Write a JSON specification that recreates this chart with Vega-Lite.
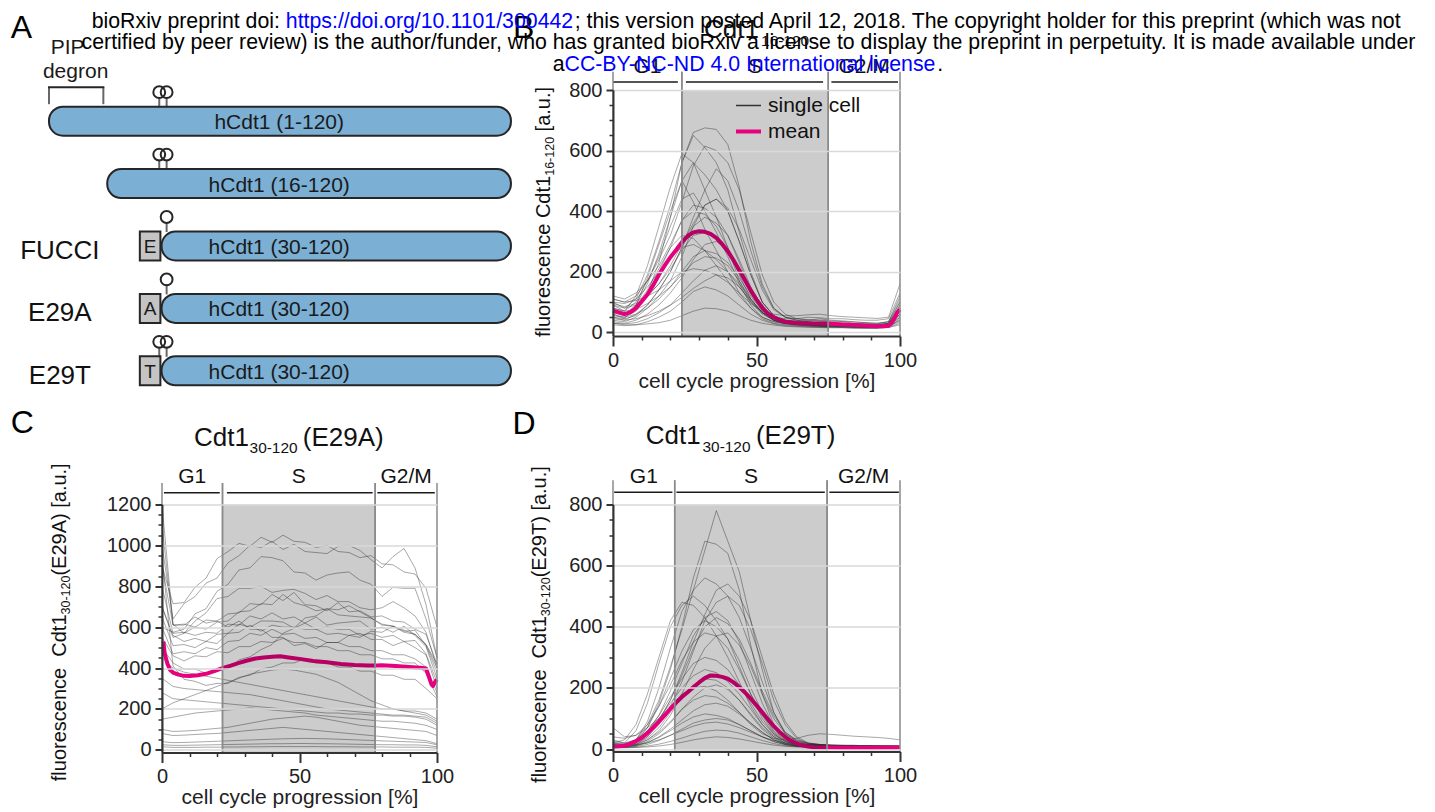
{
"$schema":"https://vega.github.io/schema/vega-lite/v6.json",
"background":"white",
"padding":{"left":10,"top":10,"right":0,"bottom":0},
"config":{"font":"Liberation Sans","view":{"stroke":null}},
"columns":2,
"bounds":"flush",
"align":"each",
"spacing":{"row":102.5,"column":176},
"datasets":{
"bars":[{"row":1,"start":1,"end":120,"label":"hCdt1 (1-120)"},{"row":2,"start":16,"end":120,"label":"hCdt1 (16-120)"},{"row":3,"start":30,"end":120,"label":"hCdt1 (30-120)"},{"row":4,"start":30,"end":120,"label":"hCdt1 (30-120)"},{"row":5,"start":30,"end":120,"label":"hCdt1 (30-120)"}],
"residues":[{"row":3,"start":24.4,"end":29.7,"res":"E"},{"row":4,"start":24.4,"end":29.7,"res":"A"},{"row":5,"start":24.4,"end":29.7,"res":"T"}],
"sites":[{"row":1,"pos":29.4},{"row":1,"pos":31.3},{"row":2,"pos":29.4},{"row":2,"pos":31.3},{"row":3,"pos":31.3},{"row":4,"pos":31.3},{"row":5,"pos":29.4},{"row":5,"pos":31.3}],
"constructs":[{"row":3,"name":"FUCCI"},{"row":4,"name":"E29A"},{"row":5,"name":"E29T"}],
"degron":[{"from":1,"to":15}],
"phasesB":[{"phase":"G1","start":0,"end":24,"from":0.2,"to":22.6,"mid":12},{"phase":"S","start":24,"end":75,"from":25.4,"to":73.2,"mid":49.5},{"phase":"G2/M","start":75,"end":100,"from":76.1,"to":99.3,"mid":87.5}],
"phasesC":[{"phase":"G1","start":0,"end":22,"from":0.7,"to":21,"mid":11},{"phase":"S","start":22,"end":77.5,"from":23.6,"to":76.6,"mid":49.75},{"phase":"G2/M","start":77.5,"end":100,"from":78.3,"to":99.2,"mid":88.75}],
"phasesD":[{"phase":"G1","start":0,"end":21.5,"from":0.4,"to":20.7,"mid":10.75},{"phase":"S","start":21.5,"end":74.6,"from":22.1,"to":73.8,"mid":48.05},{"phase":"G2/M","start":74.6,"end":100,"from":75.4,"to":99.6,"mid":87.3}],
"meanB":[{"x":0,"value":72},{"x":2,"value":66},{"x":4,"value":60},{"x":6,"value":66},{"x":8,"value":80},{"x":10,"value":102},{"x":12,"value":125},{"x":14,"value":155},{"x":16,"value":190},{"x":18,"value":220},{"x":20,"value":248},{"x":22,"value":272},{"x":24,"value":298},{"x":26,"value":318},{"x":28,"value":330},{"x":30,"value":334},{"x":32,"value":332},{"x":34,"value":325},{"x":36,"value":312},{"x":38,"value":292},{"x":40,"value":268},{"x":42,"value":238},{"x":44,"value":205},{"x":46,"value":172},{"x":48,"value":138},{"x":50,"value":108},{"x":52,"value":82},{"x":54,"value":62},{"x":56,"value":50},{"x":58,"value":41},{"x":60,"value":35},{"x":64,"value":31},{"x":68,"value":29},{"x":72,"value":29},{"x":75,"value":29},{"x":80,"value":26},{"x":85,"value":24},{"x":90,"value":21},{"x":94,"value":20},{"x":96,"value":22},{"x":97,"value":30},{"x":98,"value":45},{"x":99,"value":65},{"x":100,"value":75}],
"meanC":[{"x":0.5,"value":530},{"x":1,"value":470},{"x":2,"value":420},{"x":3,"value":390},{"x":4,"value":378},{"x":6,"value":368},{"x":8,"value":362},{"x":10,"value":361},{"x":13,"value":365},{"x":16,"value":372},{"x":19,"value":385},{"x":22,"value":400},{"x":25,"value":412},{"x":28,"value":425},{"x":31,"value":437},{"x":34,"value":447},{"x":37,"value":452},{"x":40,"value":455},{"x":43,"value":458},{"x":46,"value":452},{"x":50,"value":445},{"x":55,"value":435},{"x":60,"value":428},{"x":65,"value":420},{"x":70,"value":415},{"x":75,"value":412},{"x":78,"value":412},{"x":80,"value":414},{"x":85,"value":410},{"x":90,"value":405},{"x":94,"value":402},{"x":96,"value":398},{"x":97,"value":360},{"x":98,"value":320},{"x":98.5,"value":312},{"x":99,"value":325},{"x":99.5,"value":337},{"x":100,"value":330}],
"meanD":[{"x":0,"value":8},{"x":2,"value":9},{"x":4,"value":11},{"x":6,"value":17},{"x":8,"value":26},{"x":10,"value":37},{"x":12,"value":52},{"x":14,"value":70},{"x":16,"value":90},{"x":18,"value":110},{"x":20,"value":132},{"x":22,"value":152},{"x":24,"value":170},{"x":26,"value":186},{"x":28,"value":202},{"x":30,"value":218},{"x":32,"value":232},{"x":34,"value":241},{"x":36,"value":240},{"x":38,"value":236},{"x":40,"value":230},{"x":42,"value":218},{"x":44,"value":203},{"x":46,"value":185},{"x":48,"value":165},{"x":50,"value":143},{"x":52,"value":120},{"x":54,"value":97},{"x":56,"value":75},{"x":58,"value":56},{"x":60,"value":40},{"x":62,"value":27},{"x":64,"value":18},{"x":66,"value":12},{"x":68,"value":8},{"x":70,"value":6},{"x":74,"value":5},{"x":80,"value":4},{"x":90,"value":4},{"x":100,"value":5}],
"tracesB":[
{"x":0,"c1":100,"c2":60,"c3":110,"c4":80,"c5":50,"c6":90,"c7":40,"c8":70,"c9":120,"c10":60,"c11":50,"c12":90,"c13":35,"c14":100,"c15":55,"c16":80,"c17":30,"c18":110,"c19":45,"c20":25,"c21":30,"c22":70,"c23":95,"c24":65},
{"x":4,"c1":80,"c2":50,"c3":100,"c4":70,"c5":40,"c6":70,"c7":35,"c8":60,"c9":110,"c10":45,"c11":45,"c12":80,"c13":30,"c14":95,"c15":50,"c16":70,"c17":28,"c18":100,"c19":40,"c20":22,"c21":25,"c22":60,"c23":85,"c24":55},
{"x":8,"c1":110,"c2":70,"c3":120,"c4":120,"c5":60,"c6":100,"c7":50,"c8":80,"c9":130,"c10":55,"c11":90,"c12":90,"c13":40,"c14":110,"c15":60,"c16":75,"c17":32,"c18":105,"c19":45,"c20":25,"c21":25,"c22":90,"c23":95,"c24":85},
{"x":12,"c1":190,"c2":130,"c3":170,"c4":220,"c5":90,"c6":170,"c7":80,"c8":130,"c9":170,"c10":90,"c11":180,"c12":120,"c13":60,"c14":150,"c15":80,"c16":95,"c17":45,"c18":120,"c19":55,"c20":35,"c21":28,"c22":160,"c23":120,"c24":140},
{"x":16,"c1":300,"c2":230,"c3":240,"c4":350,"c5":140,"c6":250,"c7":120,"c8":200,"c9":220,"c10":140,"c11":290,"c12":160,"c13":90,"c14":200,"c15":110,"c16":120,"c17":65,"c18":140,"c19":70,"c20":50,"c21":32,"c22":260,"c23":160,"c24":210},
{"x":20,"c1":420,"c2":380,"c3":320,"c4":480,"c5":200,"c6":350,"c7":170,"c8":280,"c9":290,"c10":200,"c11":400,"c12":210,"c13":130,"c14":250,"c15":150,"c16":150,"c17":90,"c18":170,"c19":90,"c20":70,"c21":40,"c22":380,"c23":220,"c24":280},
{"x":24,"c1":560,"c2":560,"c3":430,"c4":590,"c5":280,"c6":440,"c7":250,"c8":370,"c9":370,"c10":280,"c11":500,"c12":270,"c13":180,"c14":280,"c15":200,"c16":190,"c17":130,"c18":200,"c19":115,"c20":100,"c21":55,"c22":500,"c23":290,"c24":320},
{"x":28,"c1":660,"c2":650,"c3":550,"c4":560,"c5":380,"c6":460,"c7":350,"c8":420,"c9":400,"c10":350,"c11":430,"c12":320,"c13":240,"c14":290,"c15":250,"c16":230,"c17":170,"c18":210,"c19":145,"c20":135,"c21":70,"c22":560,"c23":360,"c24":310},
{"x":32,"c1":675,"c2":610,"c3":615,"c4":470,"c5":470,"c6":400,"c7":420,"c8":410,"c9":390,"c10":380,"c11":340,"c12":330,"c13":290,"c14":270,"c15":270,"c16":250,"c17":205,"c18":205,"c19":170,"c20":150,"c21":80,"c22":520,"c23":420,"c24":270},
{"x":36,"c1":670,"c2":560,"c3":600,"c4":380,"c5":540,"c6":330,"c7":440,"c8":380,"c9":350,"c10":360,"c11":270,"c12":310,"c13":300,"c14":240,"c15":260,"c16":245,"c17":220,"c18":190,"c19":190,"c20":140,"c21":78,"c22":470,"c23":440,"c24":220},
{"x":40,"c1":620,"c2":470,"c3":560,"c4":280,"c5":500,"c6":250,"c7":400,"c8":320,"c9":280,"c10":320,"c11":200,"c12":270,"c13":270,"c14":200,"c15":230,"c16":220,"c17":200,"c18":165,"c19":180,"c20":120,"c21":70,"c22":400,"c23":410,"c24":170},
{"x":44,"c1":480,"c2":330,"c3":470,"c4":170,"c5":400,"c6":160,"c7":300,"c8":230,"c9":190,"c10":240,"c11":130,"c12":200,"c13":210,"c14":150,"c15":180,"c16":170,"c17":160,"c18":130,"c19":150,"c20":90,"c21":55,"c22":300,"c23":340,"c24":120},
{"x":48,"c1":300,"c2":200,"c3":330,"c4":100,"c5":270,"c6":90,"c7":190,"c8":140,"c9":110,"c10":150,"c11":80,"c12":130,"c13":140,"c14":100,"c15":120,"c16":110,"c17":110,"c18":95,"c19":105,"c20":60,"c21":40,"c22":190,"c23":240,"c24":80},
{"x":52,"c1":160,"c2":100,"c3":190,"c4":60,"c5":150,"c6":50,"c7":100,"c8":80,"c9":65,"c10":85,"c11":45,"c12":75,"c13":80,"c14":65,"c15":70,"c16":65,"c17":65,"c18":70,"c19":65,"c20":40,"c21":30,"c22":100,"c23":140,"c24":50},
{"x":56,"c1":80,"c2":55,"c3":100,"c4":40,"c5":80,"c6":35,"c7":55,"c8":50,"c9":45,"c10":45,"c11":30,"c12":45,"c13":45,"c14":50,"c15":40,"c16":40,"c17":40,"c18":60,"c19":40,"c20":28,"c21":24,"c22":55,"c23":75,"c24":35},
{"x":60,"c1":50,"c2":40,"c3":60,"c4":30,"c5":50,"c6":30,"c7":35,"c8":40,"c9":38,"c10":30,"c11":25,"c12":35,"c13":30,"c14":45,"c15":30,"c16":32,"c17":28,"c18":55,"c19":30,"c20":22,"c21":20,"c22":40,"c23":50,"c24":28},
{"x":64,"c1":40,"c2":35,"c3":45,"c4":28,"c5":40,"c6":28,"c7":28,"c8":38,"c9":35,"c10":25,"c11":22,"c12":32,"c13":26,"c14":45,"c15":28,"c16":30,"c17":24,"c18":55,"c19":28,"c20":20,"c21":18,"c22":35,"c23":45,"c24":25},
{"x":68,"c1":35,"c2":30,"c3":40,"c4":25,"c5":35,"c6":26,"c7":25,"c8":35,"c9":40,"c10":22,"c11":20,"c12":30,"c13":24,"c14":50,"c15":26,"c16":30,"c17":22,"c18":58,"c19":26,"c20":18,"c21":17,"c22":32,"c23":42,"c24":24},
{"x":72,"c1":30,"c2":30,"c3":38,"c4":22,"c5":30,"c6":24,"c7":22,"c8":32,"c9":45,"c10":20,"c11":18,"c12":28,"c13":22,"c14":48,"c15":25,"c16":35,"c17":20,"c18":60,"c19":25,"c20":18,"c21":16,"c22":30,"c23":40,"c24":22},
{"x":76,"c1":30,"c2":25,"c3":35,"c4":20,"c5":30,"c6":22,"c7":20,"c8":30,"c9":40,"c10":20,"c11":17,"c12":26,"c13":20,"c14":45,"c15":24,"c16":32,"c17":20,"c18":55,"c19":24,"c20":16,"c21":15,"c22":30,"c23":38,"c24":22},
{"x":80,"c1":28,"c2":25,"c3":35,"c4":20,"c5":28,"c6":20,"c7":20,"c8":30,"c9":38,"c10":18,"c11":16,"c12":25,"c13":20,"c14":45,"c15":24,"c16":30,"c17":18,"c18":52,"c19":22,"c20":16,"c21":15,"c22":28,"c23":36,"c24":20},
{"x":84,"c1":25,"c2":22,"c3":30,"c4":18,"c5":25,"c6":20,"c7":18,"c8":28,"c9":35,"c10":16,"c11":15,"c12":24,"c13":18,"c14":42,"c15":22,"c16":28,"c17":18,"c18":50,"c19":22,"c20":15,"c21":14,"c22":26,"c23":34,"c24":20},
{"x":88,"c1":25,"c2":20,"c3":30,"c4":18,"c5":25,"c6":18,"c7":16,"c8":26,"c9":32,"c10":15,"c11":15,"c12":22,"c13":18,"c14":40,"c15":22,"c16":28,"c17":17,"c18":48,"c19":20,"c20":14,"c21":14,"c22":25,"c23":32,"c24":18},
{"x":92,"c1":22,"c2":20,"c3":28,"c4":18,"c5":22,"c6":18,"c7":15,"c8":25,"c9":30,"c10":15,"c11":15,"c12":22,"c13":18,"c14":40,"c15":20,"c16":26,"c17":16,"c18":46,"c19":20,"c20":14,"c21":14,"c22":25,"c23":30,"c24":18},
{"x":96,"c1":30,"c2":25,"c3":35,"c4":25,"c5":28,"c6":22,"c7":20,"c8":30,"c9":35,"c10":18,"c11":20,"c12":26,"c13":20,"c14":45,"c15":24,"c16":30,"c17":18,"c18":50,"c19":22,"c20":16,"c21":16,"c22":30,"c23":35,"c24":22},
{"x":100,"c1":80,"c2":60,"c3":110,"c4":70,"c5":90,"c6":60,"c7":50,"c8":100,"c9":120,"c10":45,"c11":40,"c12":70,"c13":40,"c14":130,"c15":60,"c16":90,"c17":35,"c18":160,"c19":50,"c20":30,"c21":25,"c22":80,"c23":100,"c24":55}
],
"tracesC":[
{"x":0,"c1":900,"c2":1000,"c3":600,"c4":1100,"c5":1200,"c6":800,"c7":700,"c8":650,"c9":900,"c10":600,"c11":550,"c12":500,"c13":450,"c14":350,"c15":280,"c16":200,"c17":150,"c18":100,"c19":80,"c20":40,"c21":25,"c22":15,"c23":950,"c24":700},
{"x":4,"c1":715,"c2":640,"c3":575,"c4":610,"c5":615,"c6":570,"c7":560,"c8":510,"c9":610,"c10":470,"c11":460,"c12":425,"c13":400,"c14":310,"c15":250,"c16":230,"c17":160,"c18":90,"c19":70,"c20":35,"c21":22,"c22":12,"c23":410,"c24":550},
{"x":8,"c1":720,"c2":715,"c3":590,"c4":615,"c5":570,"c6":575,"c7":530,"c8":515,"c9":610,"c10":480,"c11":435,"c12":395,"c13":380,"c14":300,"c15":245,"c16":250,"c17":170,"c18":92,"c19":72,"c20":36,"c21":22,"c22":12,"c23":345,"c24":570},
{"x":12,"c1":795,"c2":750,"c3":665,"c4":600,"c5":600,"c6":560,"c7":545,"c8":500,"c9":650,"c10":470,"c11":460,"c12":395,"c13":370,"c14":295,"c15":240,"c16":270,"c17":180,"c18":95,"c19":75,"c20":38,"c21":23,"c22":12,"c23":335,"c24":630},
{"x":16,"c1":840,"c2":815,"c3":690,"c4":635,"c5":590,"c6":575,"c7":530,"c8":530,"c9":620,"c10":500,"c11":455,"c12":375,"c13":360,"c14":290,"c15":235,"c16":290,"c17":185,"c18":100,"c19":78,"c20":40,"c21":24,"c22":13,"c23":315,"c24":670},
{"x":20,"c1":935,"c2":840,"c3":775,"c4":630,"c5":625,"c6":570,"c7":565,"c8":520,"c9":630,"c10":490,"c11":480,"c12":395,"c13":350,"c14":285,"c15":230,"c16":310,"c17":190,"c18":105,"c19":80,"c20":42,"c21":25,"c22":13,"c23":325,"c24":740},
{"x":24,"c1":970,"c2":915,"c3":810,"c4":665,"c5":630,"c6":615,"c7":570,"c8":570,"c9":600,"c10":530,"c11":475,"c12":395,"c13":340,"c14":280,"c15":225,"c16":330,"c17":195,"c18":110,"c19":85,"c20":44,"c21":26,"c22":14,"c23":325,"c24":750},
{"x":28,"c1":1010,"c2":950,"c3":880,"c4":670,"c5":675,"c6":610,"c7":615,"c8":575,"c9":630,"c10":535,"c11":505,"c12":440,"c13":330,"c14":275,"c15":220,"c16":350,"c17":200,"c18":120,"c19":90,"c20":46,"c21":27,"c22":14,"c23":355,"c24":790},
{"x":32,"c1":995,"c2":1000,"c3":890,"c4":715,"c5":680,"c6":655,"c7":600,"c8":610,"c9":590,"c10":570,"c11":505,"c12":455,"c13":320,"c14":270,"c15":215,"c16":370,"c17":205,"c18":130,"c19":95,"c20":48,"c21":28,"c22":15,"c23":365,"c24":790},
{"x":36,"c1":1040,"c2":990,"c3":945,"c4":710,"c5":715,"c6":640,"c7":630,"c8":580,"c9":590,"c10":560,"c11":530,"c12":490,"c13":310,"c14":260,"c15":210,"c16":380,"c17":200,"c18":140,"c19":100,"c20":50,"c21":29,"c22":15,"c23":395,"c24":800},
{"x":40,"c1":1015,"c2":1020,"c3":940,"c4":760,"c5":710,"c6":670,"c7":630,"c8":610,"c9":550,"c10":590,"c11":525,"c12":515,"c13":300,"c14":250,"c15":205,"c16":390,"c17":195,"c18":150,"c19":105,"c20":52,"c21":30,"c22":16,"c23":405,"c24":770},
{"x":44,"c1":1050,"c2":980,"c3":925,"c4":730,"c5":760,"c6":640,"c7":625,"c8":600,"c9":550,"c10":565,"c11":545,"c12":570,"c13":290,"c14":240,"c15":200,"c16":395,"c17":190,"c18":155,"c19":110,"c20":54,"c21":30,"c22":16,"c23":425,"c24":780},
{"x":48,"c1":1020,"c2":1005,"c3":870,"c4":770,"c5":720,"c6":650,"c7":595,"c8":600,"c9":510,"c10":570,"c11":525,"c12":595,"c13":280,"c14":230,"c15":195,"c16":390,"c17":185,"c18":160,"c19":105,"c20":55,"c21":31,"c22":16,"c23":425,"c24":785},
{"x":52,"c1":1015,"c2":970,"c3":865,"c4":710,"c5":705,"c6":620,"c7":620,"c8":590,"c9":520,"c10":545,"c11":525,"c12":645,"c13":270,"c14":220,"c15":190,"c16":380,"c17":180,"c18":165,"c19":100,"c20":56,"c21":31,"c22":16,"c23":445,"c24":765},
{"x":56,"c1":990,"c2":965,"c3":830,"c4":705,"c5":680,"c6":650,"c7":590,"c8":590,"c9":495,"c10":550,"c11":505,"c12":655,"c13":260,"c14":210,"c15":185,"c16":370,"c17":170,"c18":160,"c19":95,"c20":55,"c21":30,"c22":16,"c23":425,"c24":735},
{"x":60,"c1":1000,"c2":960,"c3":855,"c4":680,"c5":690,"c6":610,"c7":600,"c8":565,"c9":525,"c10":525,"c11":505,"c12":690,"c13":250,"c14":200,"c15":180,"c16":350,"c17":165,"c18":150,"c19":90,"c20":54,"c21":30,"c22":15,"c23":425,"c24":755},
{"x":64,"c1":970,"c2":995,"c3":865,"c4":720,"c5":660,"c6":620,"c7":590,"c8":570,"c9":525,"c10":525,"c11":485,"c12":685,"c13":240,"c14":195,"c15":180,"c16":330,"c17":160,"c18":140,"c19":85,"c20":52,"c21":29,"c22":15,"c23":405,"c24":725},
{"x":68,"c1":965,"c2":1000,"c3":870,"c4":675,"c5":655,"c6":625,"c7":590,"c8":560,"c9":560,"c10":505,"c11":485,"c12":705,"c13":230,"c14":190,"c15":175,"c16":300,"c17":155,"c18":130,"c19":80,"c20":50,"c21":28,"c22":15,"c23":405,"c24":725},
{"x":72,"c1":940,"c2":975,"c3":830,"c4":680,"c5":650,"c6":630,"c7":560,"c8":570,"c9":550,"c10":505,"c11":465,"c12":675,"c13":220,"c14":185,"c15":175,"c16":270,"c17":150,"c18":120,"c19":75,"c20":48,"c21":27,"c22":14,"c23":385,"c24":695},
{"x":76,"c1":950,"c2":930,"c3":810,"c4":650,"c5":645,"c6":590,"c7":570,"c8":540,"c9":580,"c10":485,"c11":465,"c12":645,"c13":210,"c14":180,"c15":170,"c16":240,"c17":145,"c18":115,"c19":70,"c20":46,"c21":26,"c22":14,"c23":385,"c24":685},
{"x":80,"c1":910,"c2":890,"c3":750,"c4":655,"c5":610,"c6":600,"c7":550,"c8":540,"c9":575,"c10":485,"c11":445,"c12":615,"c13":200,"c14":175,"c15":170,"c16":220,"c17":140,"c18":110,"c19":65,"c20":44,"c21":25,"c22":14,"c23":365,"c24":695},
{"x":84,"c1":905,"c2":945,"c3":795,"c4":630,"c5":605,"c6":575,"c7":560,"c8":510,"c9":605,"c10":465,"c11":445,"c12":605,"c13":200,"c14":170,"c15":165,"c16":200,"c17":140,"c18":105,"c19":60,"c20":42,"c21":25,"c22":13,"c23":365,"c24":725},
{"x":88,"c1":870,"c2":985,"c3":790,"c4":625,"c5":580,"c6":605,"c7":530,"c8":530,"c9":585,"c10":465,"c11":425,"c12":575,"c13":190,"c14":170,"c15":165,"c16":190,"c17":135,"c18":100,"c19":55,"c20":40,"c21":24,"c22":13,"c23":345,"c24":695},
{"x":92,"c1":860,"c2":890,"c3":790,"c4":590,"c5":585,"c6":560,"c7":535,"c8":500,"c9":565,"c10":445,"c11":425,"c12":565,"c13":190,"c14":165,"c15":160,"c16":180,"c17":130,"c18":95,"c19":50,"c20":38,"c21":24,"c22":13,"c23":345,"c24":655},
{"x":96,"c1":790,"c2":710,"c3":640,"c4":565,"c5":510,"c6":505,"c7":470,"c8":465,"c9":515,"c10":405,"c11":375,"c12":515,"c13":180,"c14":160,"c15":150,"c16":170,"c17":120,"c18":90,"c19":45,"c20":36,"c21":22,"c22":12,"c23":300,"c24":575},
{"x":100,"c1":600,"c2":450,"c3":450,"c4":420,"c5":380,"c6":350,"c7":330,"c8":300,"c9":400,"c10":280,"c11":260,"c12":420,"c13":150,"c14":130,"c15":120,"c16":140,"c17":100,"c18":70,"c19":30,"c20":25,"c21":15,"c22":8,"c23":250,"c24":400}
],
"tracesD":[
{"x":0,"c1":20,"c2":10,"c3":15,"c4":30,"c5":8,"c6":12,"c7":20,"c8":70,"c9":10,"c10":15,"c11":25,"c12":10,"c13":8,"c14":40,"c15":12,"c16":8,"c17":10,"c18":5,"c19":15,"c20":6,"c21":4,"c22":20,"c23":12,"c24":18},
{"x":4,"c1":15,"c2":12,"c3":10,"c4":20,"c5":8,"c6":10,"c7":18,"c8":40,"c9":8,"c10":12,"c11":20,"c12":8,"c13":6,"c14":35,"c15":10,"c16":7,"c17":9,"c18":5,"c19":12,"c20":5,"c21":4,"c22":30,"c23":10,"c24":14},
{"x":8,"c1":30,"c2":25,"c3":30,"c4":60,"c5":15,"c6":20,"c7":30,"c8":45,"c9":12,"c10":25,"c11":30,"c12":15,"c13":10,"c14":45,"c15":15,"c16":10,"c17":12,"c18":8,"c19":14,"c20":6,"c21":5,"c22":80,"c23":18,"c24":22},
{"x":12,"c1":80,"c2":70,"c3":90,"c4":150,"c5":40,"c6":55,"c7":70,"c8":80,"c9":30,"c10":60,"c11":60,"c12":35,"c13":25,"c14":70,"c15":30,"c16":20,"c17":22,"c18":15,"c19":20,"c20":10,"c21":7,"c22":180,"c23":40,"c24":50},
{"x":16,"c1":160,"c2":150,"c3":200,"c4":280,"c5":90,"c6":110,"c7":140,"c8":140,"c9":60,"c10":110,"c11":100,"c12":70,"c13":50,"c14":100,"c15":55,"c16":40,"c17":38,"c18":28,"c19":30,"c20":16,"c21":10,"c22":300,"c23":80,"c24":95},
{"x":20,"c1":270,"c2":260,"c3":330,"c4":400,"c5":160,"c6":190,"c7":230,"c8":210,"c9":110,"c10":170,"c11":150,"c12":120,"c13":85,"c14":140,"c15":90,"c16":65,"c17":60,"c18":45,"c19":45,"c20":25,"c21":15,"c22":420,"c23":140,"c24":160},
{"x":24,"c1":390,"c2":400,"c3":450,"c4":470,"c5":250,"c6":280,"c7":320,"c8":290,"c9":180,"c10":230,"c11":200,"c12":170,"c13":130,"c14":180,"c15":130,"c16":95,"c17":85,"c18":65,"c19":60,"c20":36,"c21":22,"c22":480,"c23":220,"c24":240},
{"x":28,"c1":520,"c2":560,"c3":520,"c4":500,"c5":350,"c6":370,"c7":390,"c8":350,"c9":260,"c10":280,"c11":240,"c12":210,"c13":170,"c14":200,"c15":160,"c16":125,"c17":105,"c18":85,"c19":75,"c20":48,"c21":30,"c22":470,"c23":320,"c24":330},
{"x":32,"c1":650,"c2":680,"c3":560,"c4":470,"c5":440,"c6":430,"c7":420,"c8":380,"c9":330,"c10":300,"c11":260,"c12":230,"c13":200,"c14":205,"c15":175,"c16":145,"c17":115,"c18":95,"c19":85,"c20":58,"c21":36,"c22":430,"c23":420,"c24":400},
{"x":36,"c1":780,"c2":670,"c3":540,"c4":420,"c5":520,"c6":450,"c7":400,"c8":370,"c9":370,"c10":290,"c11":250,"c12":225,"c13":210,"c14":190,"c15":170,"c16":150,"c17":110,"c18":100,"c19":88,"c20":62,"c21":40,"c22":370,"c23":480,"c24":430},
{"x":40,"c1":680,"c2":640,"c3":500,"c4":360,"c5":540,"c6":420,"c7":360,"c8":330,"c9":380,"c10":260,"c11":220,"c12":200,"c13":195,"c14":160,"c15":150,"c16":140,"c17":100,"c18":95,"c19":82,"c20":60,"c21":38,"c22":300,"c23":500,"c24":410},
{"x":44,"c1":580,"c2":520,"c3":430,"c4":270,"c5":500,"c6":350,"c7":290,"c8":260,"c9":340,"c10":210,"c11":180,"c12":160,"c13":160,"c14":120,"c15":120,"c16":115,"c17":80,"c18":80,"c19":70,"c20":52,"c21":33,"c22":220,"c23":470,"c24":360},
{"x":48,"c1":420,"c2":340,"c3":330,"c4":180,"c5":420,"c6":250,"c7":200,"c8":180,"c9":270,"c10":150,"c11":130,"c12":110,"c13":115,"c14":80,"c15":85,"c16":85,"c17":60,"c18":60,"c19":55,"c20":40,"c21":26,"c22":140,"c23":390,"c24":280},
{"x":52,"c1":260,"c2":180,"c3":220,"c4":100,"c5":300,"c6":150,"c7":120,"c8":110,"c9":180,"c10":90,"c11":80,"c12":65,"c13":70,"c14":50,"c15":55,"c16":55,"c17":40,"c18":40,"c19":40,"c20":28,"c21":19,"c22":80,"c23":280,"c24":190},
{"x":56,"c1":120,"c2":80,"c3":120,"c4":50,"c5":180,"c6":75,"c7":60,"c8":55,"c9":100,"c10":50,"c11":45,"c12":35,"c13":40,"c14":35,"c15":30,"c16":30,"c17":25,"c18":24,"c19":28,"c20":18,"c21":13,"c22":40,"c23":160,"c24":110},
{"x":60,"c1":50,"c2":35,"c3":55,"c4":25,"c5":90,"c6":35,"c7":30,"c8":28,"c9":50,"c10":25,"c11":25,"c12":18,"c13":20,"c14":30,"c15":16,"c16":16,"c17":15,"c18":14,"c19":20,"c20":11,"c21":9,"c22":20,"c23":80,"c24":55},
{"x":64,"c1":25,"c2":20,"c3":30,"c4":15,"c5":40,"c6":20,"c7":18,"c8":18,"c9":25,"c10":15,"c11":15,"c12":12,"c13":12,"c14":35,"c15":10,"c16":10,"c17":10,"c18":9,"c19":16,"c20":8,"c21":7,"c22":12,"c23":35,"c24":28},
{"x":68,"c1":18,"c2":15,"c3":20,"c4":12,"c5":20,"c6":14,"c7":14,"c8":15,"c9":15,"c10":12,"c11":12,"c12":10,"c13":9,"c14":45,"c15":8,"c16":8,"c17":8,"c18":7,"c19":14,"c20":6,"c21":6,"c22":10,"c23":18,"c24":18},
{"x":72,"c1":15,"c2":12,"c3":15,"c4":10,"c5":15,"c6":12,"c7":12,"c8":14,"c9":12,"c10":10,"c11":10,"c12":9,"c13":8,"c14":50,"c15":7,"c16":7,"c17":7,"c18":6,"c19":13,"c20":6,"c21":5,"c22":9,"c23":13,"c24":14},
{"x":76,"c1":14,"c2":10,"c3":12,"c4":10,"c5":12,"c6":10,"c7":11,"c8":13,"c9":10,"c10":10,"c11":10,"c12":8,"c13":7,"c14":48,"c15":7,"c16":6,"c17":7,"c18":6,"c19":12,"c20":5,"c21":5,"c22":8,"c23":11,"c24":12},
{"x":80,"c1":12,"c2":10,"c3":12,"c4":9,"c5":10,"c6":10,"c7":10,"c8":12,"c9":9,"c10":9,"c11":10,"c12":8,"c13":7,"c14":45,"c15":6,"c16":6,"c17":6,"c18":5,"c19":12,"c20":5,"c21":5,"c22":8,"c23":10,"c24":11},
{"x":84,"c1":12,"c2":10,"c3":11,"c4":9,"c5":10,"c6":9,"c7":10,"c8":12,"c9":9,"c10":9,"c11":9,"c12":8,"c13":7,"c14":42,"c15":6,"c16":6,"c17":6,"c18":5,"c19":12,"c20":5,"c21":5,"c22":8,"c23":10,"c24":11},
{"x":88,"c1":11,"c2":9,"c3":10,"c4":8,"c5":10,"c6":9,"c7":10,"c8":11,"c9":8,"c10":8,"c11":9,"c12":7,"c13":6,"c14":40,"c15":6,"c16":6,"c17":6,"c18":5,"c19":11,"c20":5,"c21":4,"c22":7,"c23":9,"c24":10},
{"x":92,"c1":10,"c2":9,"c3":10,"c4":8,"c5":9,"c6":8,"c7":9,"c8":11,"c9":8,"c10":8,"c11":9,"c12":7,"c13":6,"c14":38,"c15":6,"c16":5,"c17":6,"c18":5,"c19":11,"c20":5,"c21":4,"c22":7,"c23":9,"c24":10},
{"x":96,"c1":10,"c2":8,"c3":10,"c4":8,"c5":9,"c6":8,"c7":9,"c8":10,"c9":8,"c10":8,"c11":8,"c12":7,"c13":6,"c14":35,"c15":6,"c16":5,"c17":6,"c18":5,"c19":11,"c20":5,"c21":4,"c22":7,"c23":9,"c24":10},
{"x":100,"c1":10,"c2":8,"c3":9,"c4":8,"c5":8,"c6":8,"c7":9,"c8":10,"c9":8,"c10":8,"c11":8,"c12":7,"c13":6,"c14":30,"c15":6,"c16":5,"c17":5,"c18":5,"c19":10,"c20":5,"c21":4,"c22":7,"c23":8,"c24":10}
]
},
"concat":[
{
"width":275,"height":312,
"layer":[
{"data":{"name":"bars"},"mark":{"type":"bar","cornerRadius":14,"fill":"#7BAFD4","stroke":"#262626","strokeWidth":2},
 "encoding":{"x":{"field":"start","type":"quantitative","scale":{"domain":[30.11,100.95],"nice":false,"zero":false},"axis":null},"x2":{"field":"end"},
 "y":{"field":"row","type":"ordinal","scale":{"type":"band","paddingInner":0.535,"paddingOuter":0.2675},"axis":null}}},
{"data":{"name":"residues"},"mark":{"type":"bar","fill":"#C4C4C4","stroke":"#262626","strokeWidth":2},
 "encoding":{"x":{"field":"start","type":"quantitative","axis":null},"x2":{"field":"end"},"y":{"field":"row","type":"ordinal","axis":null}}},
{"data":{"name":"bars"},"mark":{"type":"text","fontSize":21,"color":"#1a1a1a","baseline":"alphabetic","yOffset":8},
 "encoding":{"x":{"datum":60.3,"type":"quantitative","axis":null},"y":{"field":"row","type":"ordinal","axis":null},"text":{"field":"label"}}},
{"data":{"name":"residues"},"mark":{"type":"text","fontSize":19,"color":"#1a1a1a","baseline":"alphabetic","yOffset":7},
 "encoding":{"x":{"datum":27.05,"type":"quantitative","axis":null},"y":{"field":"row","type":"ordinal","axis":null},"text":{"field":"res"}}},
{"data":{"name":"sites"},"mark":{"type":"tick","orient":"vertical","size":10,"thickness":2,"color":"#262626","yOffset":-19},
 "encoding":{"x":{"field":"pos","type":"quantitative","axis":null},"y":{"field":"row","type":"ordinal","axis":null}}},
{"data":{"name":"sites"},"mark":{"type":"point","shape":"circle","size":140,"filled":false,"stroke":"#262626","strokeWidth":2,"opacity":1,"yOffset":-29},
 "encoding":{"x":{"field":"pos","type":"quantitative","axis":null},"y":{"field":"row","type":"ordinal","axis":null}}},
{"data":{"name":"degron"},"mark":{"type":"rule","color":"#262626","strokeWidth":2,"strokeCap":"square","yOffset":-34},
 "encoding":{"x":{"field":"from","type":"quantitative","axis":null},"x2":{"field":"to"},"y":{"datum":1,"type":"ordinal","axis":null}}},
{"data":{"name":"degron"},"transform":[{"fold":["from","to"],"as":["side","pos"]}],"mark":{"type":"tick","orient":"vertical","size":17,"thickness":2,"color":"#262626","yOffset":-25.5},
 "encoding":{"x":{"field":"pos","type":"quantitative","axis":null},"y":{"datum":1,"type":"ordinal","axis":null}}},
{"data":{"values":[{}]},"mark":{"type":"text","text":"degron","fontSize":21,"color":"#1a1a1a","baseline":"alphabetic","yOffset":-43},
 "encoding":{"x":{"datum":7.86,"type":"quantitative","axis":null},"y":{"datum":1,"type":"ordinal","axis":null}}},
{"data":{"values":[{}]},"mark":{"type":"text","text":"PIP","fontSize":21,"color":"#1a1a1a","baseline":"alphabetic","yOffset":-67.5},
 "encoding":{"x":{"datum":5.8,"type":"quantitative","axis":null},"y":{"datum":1,"type":"ordinal","axis":null}}},
{"data":{"name":"constructs"},"mark":{"type":"text","fontSize":26,"color":"#111111","baseline":"alphabetic","yOffset":13},
 "encoding":{"x":{"datum":3.8,"type":"quantitative","axis":null},"y":{"field":"row","type":"ordinal","axis":null},"text":{"field":"name"}}}
]
},
{
"width":287,"height":246,
"resolve":{"axis":{"x":"independent","y":"independent"}},
"layer":[
{"data":{"name":"tracesB"},"transform":[{"fold":["c1","c2","c3","c4","c5","c6","c7","c8","c9","c10","c11","c12","c13","c14","c15","c16","c17","c18","c19","c20","c21","c22","c23","c24"],"as":["cell","value"]}],
 "mark":{"type":"line","strokeWidth":1,"opacity":0.42},
 "encoding":{
  "x":{"field":"x","type":"quantitative","scale":{"domain":[0,100],"nice":false,"zero":false},"axis":{"orient":"bottom","values":[0,50,100],"tickSize":10,"tickWidth":2,"tickColor":"#333333","domainColor":"#333333","domainWidth":2,"labelFontSize":20,"labelColor":"#222222","labelPadding":4,"labelFlush":false,"labelOverlap":false,"grid":false,"title":"cell cycle progression [%]","titleFontSize":21,"titleFontWeight":"normal","titleColor":"#222222","titlePadding":0,"zindex":1}},
  "y":{"field":"value","type":"quantitative","scale":{"domain":[-12,800],"nice":false,"zero":false},"axis":{"orient":"left","values":[0,200,400,600,800],"format":"d","tickSize":7,"tickWidth":2,"tickColor":"#333333","domainColor":"#333333","domainWidth":2,"labelFontSize":20,"labelColor":"#222222","labelPadding":4,"labelOverlap":false,"grid":true,"gridColor":"#d9d9d9","gridWidth":1.5,"title":null,"zindex":1}},
  "detail":{"field":"cell","type":"nominal"},
  "color":{"datum":"single cell","type":"nominal","scale":{"domain":["single cell","mean"],"range":["#333333","#e6007e"]},
   "legend":{"orient":"none","legendX":576,"legendY":5,"title":null,"symbolType":"stroke","symbolSize":625,"labelFontSize":21,"labelColor":"#111111","labelOffset":9,"rowPadding":4,"padding":0,"symbolOpacity":1,
    "encode":{"symbols":{"update":{"strokeWidth":{"signal":"datum.value === 'mean' ? 4 : 1.5"},"stroke":{"signal":"datum.value === 'mean' ? '#e6007e' : '#555555'"},"opacity":{"value":1}}}}}}
 }},
{"data":{"name":"meanB"},"mark":{"type":"line","strokeWidth":4,"strokeJoin":"round"},
 "encoding":{
  "x":{"field":"x","type":"quantitative","axis":{"orient":"bottom","values":[10,20,30,40,60,70,80,90],"tickSize":4,"tickWidth":1.5,"tickColor":"#333333","labels":false,"domain":false,"grid":false,"title":null,"zindex":1}},
  "y":{"field":"value","type":"quantitative","axis":{"orient":"left","values":[50,100,150,250,300,350,450,500,550,650,700,750],"tickSize":4,"tickWidth":1.5,"tickColor":"#333333","labels":false,"domain":false,"grid":false,"title":null,"zindex":1}},
  "color":{"datum":"mean","type":"nominal"}}},
{"data":{"name":"phasesB"},"transform":[{"filter":"datum.phase === 'S'"}],"mark":{"type":"rect","color":"#000000","opacity":0.2},
 "encoding":{"x":{"field":"start","type":"quantitative","axis":null},"x2":{"field":"end"},"y":{"datum":-12,"type":"quantitative","axis":null},"y2":{"datum":800}}},
{"data":{"name":"phasesB"},"transform":[{"fold":["start","end"],"as":["side","pos"]}],"mark":{"type":"rule","color":"#8a8a8a","strokeWidth":1.5},
 "encoding":{"x":{"field":"pos","type":"quantitative","axis":null},"y":{"datum":-12,"type":"quantitative","axis":null},"y2":{"datum":860}}},
{"data":{"name":"phasesB"},"mark":{"type":"rule","color":"#1a1a1a","strokeWidth":1.5},
 "encoding":{"x":{"field":"from","type":"quantitative","axis":null},"x2":{"field":"to"},"y":{"datum":826,"type":"quantitative","axis":null}}},
{"data":{"name":"phasesB"},"mark":{"type":"text","fontSize":21,"baseline":"alphabetic","color":"#111111"},
 "encoding":{"x":{"field":"mid","type":"quantitative","axis":null},"y":{"datum":857,"type":"quantitative","axis":null},"text":{"field":"phase"}}},
{"data":{"values":[{}]},"mark":{"type":"text","text":"Cdt1","fontSize":26,"align":"left","baseline":"alphabetic","color":"#111111"},
 "encoding":{"x":{"datum":31.7,"type":"quantitative","axis":null},"y":{"datum":972.6,"type":"quantitative","axis":null}}},
{"data":{"values":[{}]},"mark":{"type":"text","text":"16-120","fontSize":15.4,"align":"left","baseline":"alphabetic","color":"#111111"},
 "encoding":{"x":{"datum":51.6,"type":"quantitative","axis":null},"y":{"datum":945.2,"type":"quantitative","axis":null}}},
{"data":{"values":[{}]},"mark":{"type":"text","text":"fluorescence","fontSize":20,"angle":270,"align":"left","baseline":"alphabetic","color":"#111111"},
 "encoding":{"x":{"datum":-21.95,"type":"quantitative","axis":null},"y":{"datum":-15.3,"type":"quantitative","axis":null}}},
{"data":{"values":[{}]},"mark":{"type":"text","text":"Cdt1","fontSize":20,"angle":270,"align":"left","baseline":"alphabetic","color":"#111111"},
 "encoding":{"x":{"datum":-21.95,"type":"quantitative","axis":null},"y":{"datum":377.2,"type":"quantitative","axis":null}}},
{"data":{"values":[{}]},"mark":{"type":"text","text":"16-120","fontSize":12.5,"angle":270,"align":"left","baseline":"alphabetic","color":"#111111"},
 "encoding":{"x":{"datum":-20.56,"type":"quantitative","axis":null},"y":{"datum":516.8,"type":"quantitative","axis":null}}},
{"data":{"values":[{}]},"mark":{"type":"text","text":"[a.u.]","fontSize":20,"angle":270,"align":"left","baseline":"alphabetic","color":"#111111"},
 "encoding":{"x":{"datum":-21.95,"type":"quantitative","axis":null},"y":{"datum":663.3,"type":"quantitative","axis":null}}},
{"data":{"values":[{}]},"mark":{"type":"text","text":"A","fontSize":32,"align":"left","baseline":"alphabetic","color":"#000000"},
 "encoding":{"x":{"datum":-209.8,"type":"quantitative","axis":null},"y":{"datum":971.6,"type":"quantitative","axis":null}}},
{"data":{"values":[{}]},"mark":{"type":"text","text":"B","fontSize":32,"align":"left","baseline":"alphabetic","color":"#000000"},
 "encoding":{"x":{"datum":-34.8,"type":"quantitative","axis":null},"y":{"datum":971.6,"type":"quantitative","axis":null}}},
{"data":{"values":[{}]},"mark":{"type":"text","text":"bioRxiv preprint doi:","fontSize":21.3,"align":"left","baseline":"alphabetic","color":"#000000"},
 "encoding":{"x":{"datum":-181.64,"type":"quantitative","axis":null},"y":{"datum":1005.6,"type":"quantitative","axis":null}}},
{"data":{"values":[{}]},"mark":{"type":"text","text":"https://doi.org/10.1101/300442","fontSize":21.3,"align":"left","baseline":"alphabetic","color":"#0000ff"},
 "encoding":{"x":{"datum":-114.0,"type":"quantitative","axis":null},"y":{"datum":1005.6,"type":"quantitative","axis":null}}},
{"data":{"values":[{}]},"mark":{"type":"text","text":"; this version posted April 12, 2018. The copyright holder for this preprint (which was not","fontSize":21.3,"align":"left","baseline":"alphabetic","color":"#000000"},
 "encoding":{"x":{"datum":-13.34,"type":"quantitative","axis":null},"y":{"datum":1005.6,"type":"quantitative","axis":null}}},
{"data":{"values":[{}]},"mark":{"type":"text","text":"certified by peer review) is the author/funder, who has granted bioRxiv a license to display the preprint in perpetuity. It is made available under","fontSize":21.3,"align":"center","baseline":"alphabetic","color":"#000000"},
 "encoding":{"x":{"datum":47.21,"type":"quantitative","axis":null},"y":{"datum":934.3,"type":"quantitative","axis":null}}},
{"data":{"values":[{}]},"mark":{"type":"text","text":"a","fontSize":21.3,"align":"left","baseline":"alphabetic","color":"#000000"},
 "encoding":{"x":{"datum":-20.98,"type":"quantitative","axis":null},"y":{"datum":862.7,"type":"quantitative","axis":null}}},
{"data":{"values":[{}]},"mark":{"type":"text","text":"CC-BY-NC-ND 4.0 International license","fontSize":21.3,"align":"left","baseline":"alphabetic","color":"#0000ff"},
 "encoding":{"x":{"datum":-16.9,"type":"quantitative","axis":null},"y":{"datum":862.7,"type":"quantitative","axis":null}}},
{"data":{"values":[{}]},"mark":{"type":"text","text":".","fontSize":21.3,"align":"left","baseline":"alphabetic","color":"#000000"},
 "encoding":{"x":{"datum":113.0,"type":"quantitative","axis":null},"y":{"datum":862.7,"type":"quantitative","axis":null}}}
]
},
{
"width":275,"height":248,
"resolve":{"axis":{"x":"independent","y":"independent"}},
"layer":[
{"data":{"name":"tracesC"},"transform":[{"fold":["c1","c2","c3","c4","c5","c6","c7","c8","c9","c10","c11","c12","c13","c14","c15","c16","c17","c18","c19","c20","c21","c22","c23","c24"],"as":["cell","value"]}],
 "mark":{"type":"line","strokeWidth":1,"opacity":0.42,"color":"#333333"},
 "encoding":{
  "x":{"field":"x","type":"quantitative","scale":{"domain":[0,100],"nice":false,"zero":false},"axis":{"orient":"bottom","values":[0,50,100],"tickSize":10,"tickWidth":2,"tickColor":"#333333","domainColor":"#333333","domainWidth":2,"labelFontSize":20,"labelColor":"#222222","labelPadding":4,"labelFlush":false,"labelOverlap":false,"grid":false,"title":"cell cycle progression [%]","titleFontSize":21,"titleFontWeight":"normal","titleColor":"#222222","titlePadding":0,"zindex":1}},
  "y":{"field":"value","type":"quantitative","scale":{"domain":[-13,1200],"nice":false,"zero":false},"axis":{"orient":"left","values":[0,200,400,600,800,1000,1200],"format":"d","tickSize":7,"tickWidth":2,"tickColor":"#333333","domainColor":"#333333","domainWidth":2,"labelFontSize":20,"labelColor":"#222222","labelPadding":4,"labelOverlap":false,"grid":true,"gridColor":"#d9d9d9","gridWidth":1.5,"title":null,"zindex":1}},
  "detail":{"field":"cell","type":"nominal"}}},
{"data":{"name":"meanC"},"mark":{"type":"line","strokeWidth":4,"strokeJoin":"round","color":"#e6007e"},
 "encoding":{
  "x":{"field":"x","type":"quantitative","axis":{"orient":"bottom","values":[10,20,30,40,60,70,80,90],"tickSize":4,"tickWidth":1.5,"tickColor":"#333333","labels":false,"domain":false,"grid":false,"title":null,"zindex":1}},
  "y":{"field":"value","type":"quantitative","axis":{"orient":"left","values":[50,100,150,250,300,350,450,500,550,650,700,750,850,900,950,1050,1100,1150],"tickSize":4,"tickWidth":1.5,"tickColor":"#333333","labels":false,"domain":false,"grid":false,"title":null,"zindex":1}}}},
{"data":{"name":"phasesC"},"transform":[{"filter":"datum.phase === 'S'"}],"mark":{"type":"rect","color":"#000000","opacity":0.2},
 "encoding":{"x":{"field":"start","type":"quantitative","axis":null},"x2":{"field":"end"},"y":{"datum":-13,"type":"quantitative","axis":null},"y2":{"datum":1200}}},
{"data":{"name":"phasesC"},"transform":[{"fold":["start","end"],"as":["side","pos"]}],"mark":{"type":"rule","color":"#8a8a8a","strokeWidth":1.5},
 "encoding":{"x":{"field":"pos","type":"quantitative","axis":null},"y":{"datum":-13,"type":"quantitative","axis":null},"y2":{"datum":1305}}},
{"data":{"name":"phasesC"},"mark":{"type":"rule","color":"#1a1a1a","strokeWidth":1.5},
 "encoding":{"x":{"field":"from","type":"quantitative","axis":null},"x2":{"field":"to"},"y":{"datum":1257,"type":"quantitative","axis":null}}},
{"data":{"name":"phasesC"},"mark":{"type":"text","fontSize":21,"baseline":"alphabetic","color":"#111111"},
 "encoding":{"x":{"field":"mid","type":"quantitative","axis":null},"y":{"datum":1305,"type":"quantitative","axis":null},"text":{"field":"phase"}}},
{"data":{"values":[{}]},"mark":{"type":"text","text":"Cdt1","fontSize":26,"align":"left","baseline":"alphabetic","color":"#111111"},
 "encoding":{"x":{"datum":11.65,"type":"quantitative","axis":null},"y":{"datum":1485,"type":"quantitative","axis":null}}},
{"data":{"values":[{}]},"mark":{"type":"text","text":"30-120","fontSize":15.4,"align":"left","baseline":"alphabetic","color":"#111111"},
 "encoding":{"x":{"datum":31.85,"type":"quantitative","axis":null},"y":{"datum":1452.4,"type":"quantitative","axis":null}}},
{"data":{"values":[{}]},"mark":{"type":"text","text":"(E29A)","fontSize":26,"align":"left","baseline":"alphabetic","color":"#111111"},
 "encoding":{"x":{"datum":51.2,"type":"quantitative","axis":null},"y":{"datum":1485,"type":"quantitative","axis":null}}},
{"data":{"values":[{}]},"mark":{"type":"text","text":"fluorescence","fontSize":20,"angle":270,"align":"left","baseline":"alphabetic","color":"#111111"},
 "encoding":{"x":{"datum":-34.95,"type":"quantitative","axis":null},"y":{"datum":-153.4,"type":"quantitative","axis":null}}},
{"data":{"values":[{}]},"mark":{"type":"text","text":"Cdt1","fontSize":20,"angle":270,"align":"left","baseline":"alphabetic","color":"#111111"},
 "encoding":{"x":{"datum":-34.95,"type":"quantitative","axis":null},"y":{"datum":455.6,"type":"quantitative","axis":null}}},
{"data":{"values":[{}]},"mark":{"type":"text","text":"30-120","fontSize":12.5,"angle":270,"align":"left","baseline":"alphabetic","color":"#111111"},
 "encoding":{"x":{"datum":-33.49,"type":"quantitative","axis":null},"y":{"datum":662.0,"type":"quantitative","axis":null}}},
{"data":{"values":[{}]},"mark":{"type":"text","text":"(E29A)","fontSize":20,"angle":270,"align":"left","baseline":"alphabetic","color":"#111111"},
 "encoding":{"x":{"datum":-34.95,"type":"quantitative","axis":null},"y":{"datum":852.2,"type":"quantitative","axis":null}}},
{"data":{"values":[{}]},"mark":{"type":"text","text":"[a.u.]","fontSize":20,"angle":270,"align":"left","baseline":"alphabetic","color":"#111111"},
 "encoding":{"x":{"datum":-34.95,"type":"quantitative","axis":null},"y":{"datum":1183.9,"type":"quantitative","axis":null}}},
{"data":{"values":[{}]},"mark":{"type":"text","text":"C","fontSize":32,"align":"left","baseline":"alphabetic","color":"#000000"},
 "encoding":{"x":{"datum":-54.97,"type":"quantitative","axis":null},"y":{"datum":1548.7,"type":"quantitative","axis":null}}}
]
},
{
"width":287,"height":247,
"resolve":{"axis":{"x":"independent","y":"independent"}},
"layer":[
{"data":{"name":"tracesD"},"transform":[{"fold":["c1","c2","c3","c4","c5","c6","c7","c8","c9","c10","c11","c12","c13","c14","c15","c16","c17","c18","c19","c20","c21","c22","c23","c24"],"as":["cell","value"]}],
 "mark":{"type":"line","strokeWidth":1,"opacity":0.42,"color":"#333333"},
 "encoding":{
  "x":{"field":"x","type":"quantitative","scale":{"domain":[0,100],"nice":false,"zero":false},"axis":{"orient":"bottom","values":[0,50,100],"tickSize":10,"tickWidth":2,"tickColor":"#333333","domainColor":"#333333","domainWidth":2,"labelFontSize":20,"labelColor":"#222222","labelPadding":4,"labelFlush":false,"labelOverlap":false,"grid":false,"title":"cell cycle progression [%]","titleFontSize":21,"titleFontWeight":"normal","titleColor":"#222222","titlePadding":0,"zindex":1}},
  "y":{"field":"value","type":"quantitative","scale":{"domain":[-8,800],"nice":false,"zero":false},"axis":{"orient":"left","values":[0,200,400,600,800],"format":"d","tickSize":7,"tickWidth":2,"tickColor":"#333333","domainColor":"#333333","domainWidth":2,"labelFontSize":20,"labelColor":"#222222","labelPadding":4,"labelOverlap":false,"grid":true,"gridColor":"#d9d9d9","gridWidth":1.5,"title":null,"zindex":1}},
  "detail":{"field":"cell","type":"nominal"}}},
{"data":{"name":"meanD"},"mark":{"type":"line","strokeWidth":4,"strokeJoin":"round","color":"#e6007e"},
 "encoding":{
  "x":{"field":"x","type":"quantitative","axis":{"orient":"bottom","values":[10,20,30,40,60,70,80,90],"tickSize":4,"tickWidth":1.5,"tickColor":"#333333","labels":false,"domain":false,"grid":false,"title":null,"zindex":1}},
  "y":{"field":"value","type":"quantitative","axis":{"orient":"left","values":[50,100,150,250,300,350,450,500,550,650,700,750],"tickSize":4,"tickWidth":1.5,"tickColor":"#333333","labels":false,"domain":false,"grid":false,"title":null,"zindex":1}}}},
{"data":{"name":"phasesD"},"transform":[{"filter":"datum.phase === 'S'"}],"mark":{"type":"rect","color":"#000000","opacity":0.2},
 "encoding":{"x":{"field":"start","type":"quantitative","axis":null},"x2":{"field":"end"},"y":{"datum":-8,"type":"quantitative","axis":null},"y2":{"datum":800}}},
{"data":{"name":"phasesD"},"transform":[{"fold":["start","end"],"as":["side","pos"]}],"mark":{"type":"rule","color":"#8a8a8a","strokeWidth":1.5},
 "encoding":{"x":{"field":"pos","type":"quantitative","axis":null},"y":{"datum":-8,"type":"quantitative","axis":null},"y2":{"datum":879}}},
{"data":{"name":"phasesD"},"mark":{"type":"rule","color":"#1a1a1a","strokeWidth":1.5},
 "encoding":{"x":{"field":"from","type":"quantitative","axis":null},"x2":{"field":"to"},"y":{"datum":840,"type":"quantitative","axis":null}}},
{"data":{"name":"phasesD"},"mark":{"type":"text","fontSize":21,"baseline":"alphabetic","color":"#111111"},
 "encoding":{"x":{"field":"mid","type":"quantitative","axis":null},"y":{"datum":869,"type":"quantitative","axis":null},"text":{"field":"phase"}}},
{"data":{"values":[{}]},"mark":{"type":"text","text":"Cdt1","fontSize":26,"align":"left","baseline":"alphabetic","color":"#111111"},
 "encoding":{"x":{"datum":11.4,"type":"quantitative","axis":null},"y":{"datum":998.6,"type":"quantitative","axis":null}}},
{"data":{"values":[{}]},"mark":{"type":"text","text":"30-120","fontSize":15.4,"align":"left","baseline":"alphabetic","color":"#111111"},
 "encoding":{"x":{"datum":31.2,"type":"quantitative","axis":null},"y":{"datum":971.1,"type":"quantitative","axis":null}}},
{"data":{"values":[{}]},"mark":{"type":"text","text":"(E29T)","fontSize":26,"align":"left","baseline":"alphabetic","color":"#111111"},
 "encoding":{"x":{"datum":49.8,"type":"quantitative","axis":null},"y":{"datum":998.6,"type":"quantitative","axis":null}}},
{"data":{"values":[{}]},"mark":{"type":"text","text":"fluorescence","fontSize":20,"angle":270,"align":"left","baseline":"alphabetic","color":"#111111"},
 "encoding":{"x":{"datum":-23.47,"type":"quantitative","axis":null},"y":{"datum":-110.7,"type":"quantitative","axis":null}}},
{"data":{"values":[{}]},"mark":{"type":"text","text":"Cdt1","fontSize":20,"angle":270,"align":"left","baseline":"alphabetic","color":"#111111"},
 "encoding":{"x":{"datum":-23.47,"type":"quantitative","axis":null},"y":{"datum":296.6,"type":"quantitative","axis":null}}},
{"data":{"values":[{}]},"mark":{"type":"text","text":"30-120","fontSize":12.5,"angle":270,"align":"left","baseline":"alphabetic","color":"#111111"},
 "encoding":{"x":{"datum":-22.08,"type":"quantitative","axis":null},"y":{"datum":434.6,"type":"quantitative","axis":null}}},
{"data":{"values":[{}]},"mark":{"type":"text","text":"(E29T)","fontSize":20,"angle":270,"align":"left","baseline":"alphabetic","color":"#111111"},
 "encoding":{"x":{"datum":-23.47,"type":"quantitative","axis":null},"y":{"datum":561.9,"type":"quantitative","axis":null}}},
{"data":{"values":[{}]},"mark":{"type":"text","text":"[a.u.]","fontSize":20,"angle":270,"align":"left","baseline":"alphabetic","color":"#111111"},
 "encoding":{"x":{"datum":-23.47,"type":"quantitative","axis":null},"y":{"datum":780.0,"type":"quantitative","axis":null}}},
{"data":{"values":[{}]},"mark":{"type":"text","text":"D","fontSize":32,"align":"left","baseline":"alphabetic","color":"#000000"},
 "encoding":{"x":{"datum":-34.98,"type":"quantitative","axis":null},"y":{"datum":1029,"type":"quantitative","axis":null}}}
]
}
]
}
